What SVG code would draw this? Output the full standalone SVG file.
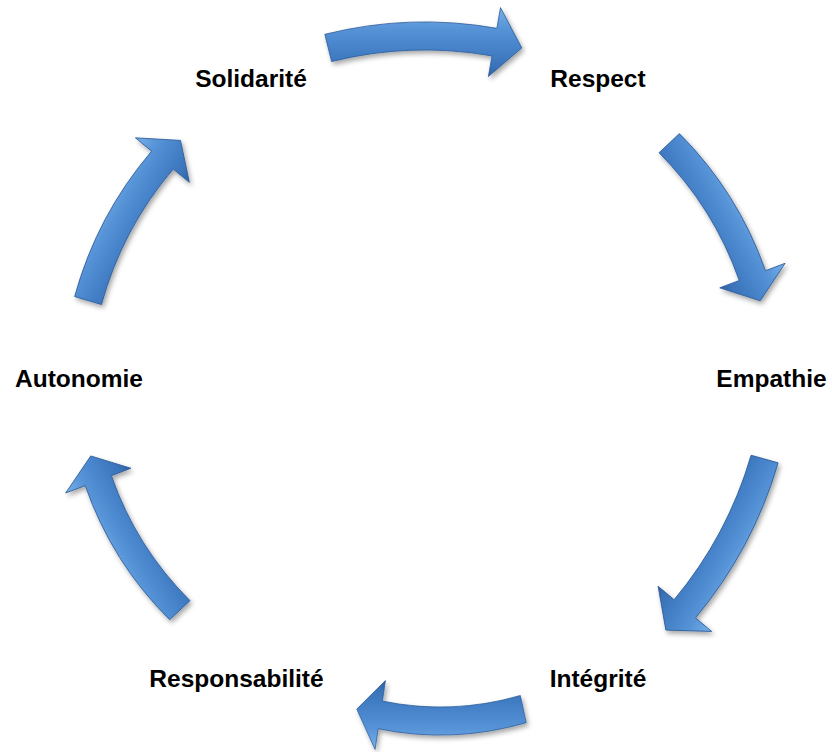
<svg xmlns="http://www.w3.org/2000/svg" xmlns:xlink="http://www.w3.org/1999/xlink" width="832" height="752" viewBox="0 0 832 752">
  <style>
    .lbl { font-family: "Liberation Sans", Arial, sans-serif; font-weight: bold; font-size: 24.5px; fill: #000; text-anchor: middle; }
    .arrow { fill: url(#blue); stroke: #2b5c99; stroke-width: 0.8; stroke-linejoin: round; }
  </style>
  <defs>
    <linearGradient id="blue" gradientUnits="userSpaceOnUse" x1="0" y1="-38" x2="0" y2="30">
      <stop offset="0" stop-color="#76aee8"/>
      <stop offset="0.3" stop-color="#5592d6"/>
      <stop offset="0.6" stop-color="#4581c8"/>
      <stop offset="0.85" stop-color="#3a72b8"/>
      <stop offset="1" stop-color="#2d5e9e"/>
    </linearGradient>
    <filter id="shadow" x="-20%" y="-20%" width="140%" height="140%">
      <feDropShadow dx="2" dy="3" stdDeviation="2.5" flood-color="#000" flood-opacity="0.35"/>
    </filter>
    <path id="curvedArrow" class="arrow" d="M-100.2,-12.7 A414,414 0 0 1 71.9,-18.7 L75.5,-39.4 L96.8,0.9 L63.4,29.5 L67,8.9 A386,386 0 0 0 -93.4,14.5 Z"/>
  </defs>
  <rect width="832" height="752" fill="#fff"/>
  <g id="connectors">
    <g filter="url(#shadow)"><use xlink:href="#curvedArrow" href="#curvedArrow" transform="translate(425,47)"/></g>
    <g filter="url(#shadow)"><use xlink:href="#curvedArrow" href="#curvedArrow" transform="translate(715.5,221.5) rotate(60) scale(0.94,1)"/></g>
    <g filter="url(#shadow)"><use xlink:href="#curvedArrow" href="#curvedArrow" transform="translate(716,545) rotate(120) scale(1.02,1)"/></g>
    <g filter="url(#shadow)"><use xlink:href="#curvedArrow" href="#curvedArrow" transform="translate(440,710) rotate(180) scale(0.86,1)"/></g>
    <g filter="url(#shadow)"><use xlink:href="#curvedArrow" href="#curvedArrow" transform="translate(134.5,533.5) rotate(240) scale(0.92,1)"/></g>
    <g filter="url(#shadow)"><use xlink:href="#curvedArrow" href="#curvedArrow" transform="translate(133.5,220) rotate(300) scale(0.955,1)"/></g>
  </g>
  <g id="node-solidarite"><text class="lbl" x="251" y="87">Solidarité</text></g>
  <g id="node-respect"><text class="lbl" x="598" y="87">Respect</text></g>
  <g id="node-empathie"><text class="lbl" x="771.5" y="387">Empathie</text></g>
  <g id="node-integrite"><text class="lbl" x="598" y="687">Intégrité</text></g>
  <g id="node-responsabilite"><text class="lbl" x="236.5" y="687">Responsabilité</text></g>
  <g id="node-autonomie"><text class="lbl" x="79" y="387">Autonomie</text></g>
</svg>
